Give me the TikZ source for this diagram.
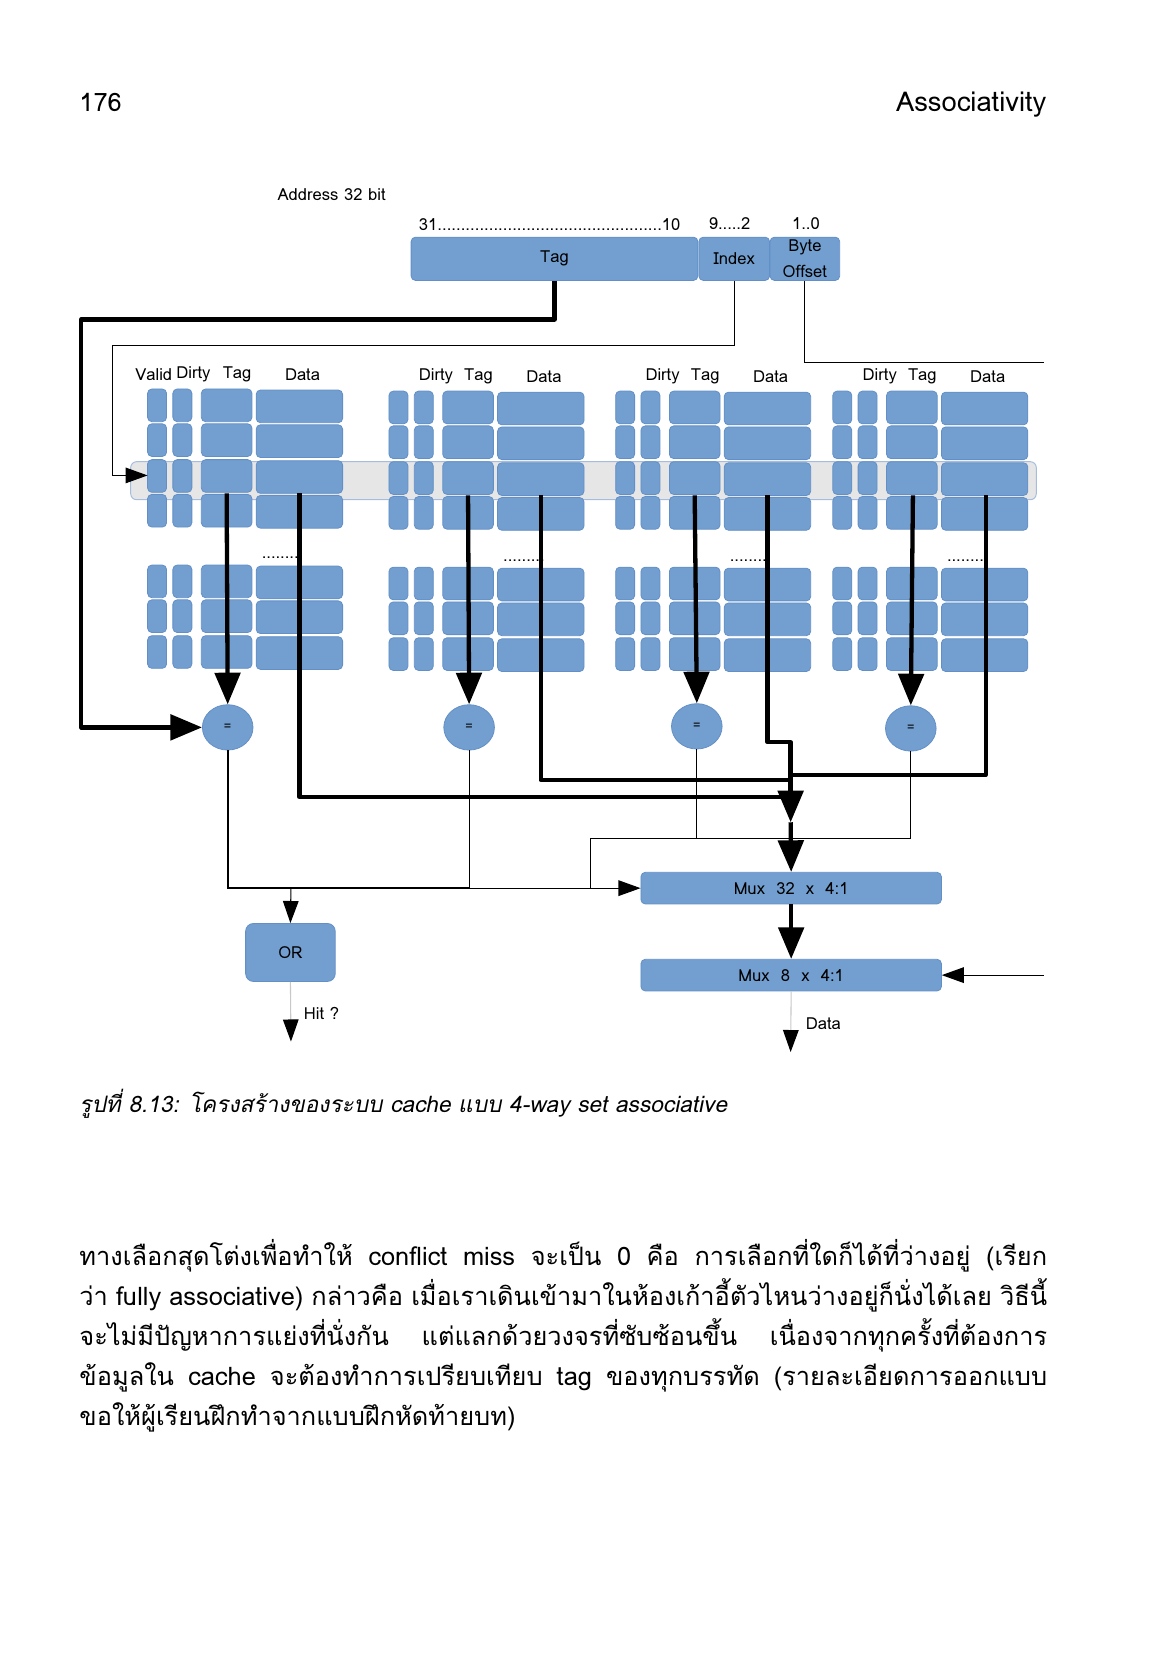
\documentclass[tikz,border=0pt]{standalone}
\usepackage{fontspec}
\setmainfont{Loma}[Script=Thai]
\newfontfamily\thaiit{Loma}[Script=Thai,FakeSlant=0.2]
\usetikzlibrary{arrows.meta,shapes.geometric}
\definecolor{blu}{RGB}{114,159,207}
\definecolor{blud}{RGB}{98,143,199}
\definecolor{bandf}{RGB}{230,230,230}
\definecolor{bandd}{RGB}{165,188,222}
\definecolor{lgray}{RGB}{200,200,200}
\newcommand\dfont{\fontsize{8.5}{13}\selectfont}
\newcommand\jline[1]{\hbox to 495.7pt{\spaceskip=.3em plus 1fil\relax #1}}
\newcommand\drawway[2]{%
  \foreach \ry in {369,402,436,469,536,569,603} {
    \path[blk] (#1,\ry+#2) rectangle ++(18,31);
    \path[blk] (#1+24,\ry+#2) rectangle ++(18,31);
    \path[blk] (#1+51,\ry+#2) rectangle ++(48,31);
    \path[blk] (#1+103,\ry+#2+1) rectangle ++(82,31);
  }}
\begin{document}
\begin{tikzpicture}[x=0.54pt,y=-0.54pt,
  blk/.style={fill=blu,draw=blud,line width=0.4pt,rounded corners=2.2pt},
  box/.style={blk,inner sep=0pt,font=\dfont},
  sz/.style 2 args={minimum width=#1*0.54pt,minimum height=#2*0.54pt},
  lbl/.style={inner sep=0pt,font=\dfont},
  eqc/.style={ellipse,fill=blu,draw=blud,line width=0.4pt,inner sep=0pt,
    minimum width=48*0.54pt,minimum height=43*0.54pt,font=\fontsize{6.5}{7}\selectfont},
  thk/.style={line width=2.2pt,line join=round},
  thn/.style={line width=0.55pt},
  thn2/.style={line width=0.9pt},
  bigtip/.tip={Triangle[length=16.2pt,width=13pt]},
  smtip/.tip={Triangle[length=11.3pt,width=8pt]},
  grtip/.tip={Triangle[length=11.3pt,width=8pt,color=black]},
  body/.style={anchor=base west,inner sep=0pt,font=\fontsize{13}{16}\selectfont}
]
\useasboundingbox (0,0) rectangle (1106,1569);

% header
\node[anchor=base west,inner sep=0pt,font=\fontsize{13}{15}\selectfont] (pg) at (75,106) {176};
\node[anchor=base east,inner sep=0pt,font=\fontsize{14}{15}\selectfont] (hd) at (993,106) {Associativity};

% address fields
\node[lbl,anchor=west] (addr) at (263,185) {Address 32 bit};
\node[lbl,anchor=west] (b31) at (397,213) {\makebox[133.9pt]{31\xleaders\hbox{.}\hfill10}};
\node[lbl,anchor=west] (b9) at (672,212) {9.....2};
\node[lbl,anchor=west] (b1) at (751,212) {1..0};
\node[box,sz={272}{41}] (tagf) at (526,245.5) {Tag};
\node[box,sz={67}{41}] (idx) at (696.5,245.5) {Index};
\node[box,sz={66}{41},align=center] (boff) at (763.5,245.5) {Byte\\Offset};

% column headers
\node[lbl,anchor=west] (h1v) at (128,355) {Valid};
\node[lbl,anchor=west] (h1d) at (167,355) {Dirty};
\node[lbl,anchor=west] (h1t) at (211,355) {Tag};
\node[lbl,anchor=west] (h1a) at (270,355) {Data};
\node[lbl,anchor=west] (h2d) at (397,357) {Dirty};
\node[lbl,anchor=west] (h2t) at (440,357) {Tag};
\node[lbl,anchor=west] (h2a) at (499,357) {Data};
\node[lbl,anchor=west] (h3d) at (612,357) {Dirty};
\node[lbl,anchor=west] (h3t) at (655,357) {Tag};
\node[lbl,anchor=west] (h3a) at (714,357) {Data};
\node[lbl,anchor=west] (h4d) at (818,357) {Dirty};
\node[lbl,anchor=west] (h4t) at (861,357) {Tag};
\node[lbl,anchor=west] (h4a) at (920,357) {Data};

% selected set band
\path[fill=bandf,draw=bandd,line width=0.5pt,rounded corners=3pt] (124,438) rectangle (983,474);

% the four ways
\drawway{140}{0}
\drawway{369}{2}
\drawway{584}{2}
\drawway{790}{2}

\node[lbl] (e1) at (268,529) {.........};
\node[lbl] (e2) at (497,532) {.........};
\node[lbl] (e3) at (712,532) {.........};
\node[lbl] (e4) at (918,532) {.........};

% comparators
\node[eqc] (c1) at (216,690) {=};
\node[eqc] (c2) at (445,690) {=};
\node[eqc] (c3) at (661,689) {=};
\node[eqc] (c4) at (864,691) {=};

% muxes and OR
\node[box,sz={285}{30}] (m32) at (750.5,842.5) {Mux\ \ 32\ \ x\ \ 4:1};
\node[box,sz={285}{30}] (m8) at (750.5,925) {Mux\ \ 8\ \ x\ \ 4:1};
\node[box,sz={85}{55},rounded corners=4pt] (or) at (275.5,903.5) {OR};

% coordinates
\coordinate (rowin) at (140,451);
\coordinate (boend) at (990,344);
\coordinate (selin) at (990,925);
\coordinate (t1) at (215,468);
\coordinate (t2) at (444,470);
\coordinate (t3) at (659,470);
\coordinate (t4) at (866,470);
\coordinate (d1) at (284,468);
\coordinate (d2) at (513,470);
\coordinate (d3) at (728,470);
\coordinate (d4) at (935,470);
\coordinate (vj) at (750,704);
\coordinate (va) at (750,780);
\coordinate (j1) at (445,842.5);
\coordinate (j0) at (560,842.5);
\coordinate (j2) at (560,795);
\coordinate (jor) at (276,842.5);
\coordinate (hit) at (276,988);
\coordinate (dout) at (750,998);

% address connectors
\draw[thk,-{bigtip}] (tagf.south) |- (77,303) |- (c1.west);
\draw[thn,-{smtip}] (idx.south) |- (107,328) |- (rowin);
\draw[thn] (boff.south) |- (boend);
\draw[thn,-{smtip}] (selin) -- (m8.east);

% tag compare lines
\draw[thk,-{bigtip}] (t1) -- (c1.north);
\draw[thk,-{bigtip}] (t2) -- (c2.north);
\draw[thk,-{bigtip}] (t3) -- (c3.north);
\draw[thk,-{bigtip}] (t4) -- (c4.north);

% data lines
\draw[thk] (d1) |- (750,756);
\draw[thk] (d2) |- (750,740);
\draw[thk] (d4) |- (750,735);
\draw[thk,-{bigtip}] (d3) |- (vj) -- (va);
\draw[thk,-{bigtip}] (va) -- (m32.north);
\draw[thk,-{bigtip}] (m32.south) -- (m8.north);

% hit logic
\draw[thn2] (c1.south) |- (j1);
\draw[thn] (c2.south) -- (j1);
\draw[thn,-{smtip}] (j1) -- (m32.west);
\draw[thn] (c3.south) |- (j2);
\draw[thn] (c4.south) |- (j2);
\draw[thn] (j2) -- (j0);
\draw[thn,-{smtip}] (jor) -- (or.north);
\draw[thn,draw=lgray,-{grtip}] (or.south) -- (hit);
\draw[thn,draw=lgray,-{grtip}] (m8.south) -- (dout);
\node[lbl,anchor=west] (hitl) at (288,961) {Hit ?};
\node[lbl,anchor=west] (datl) at (764,971) {Data};

% caption
\node[anchor=base west,inner sep=0pt,font=\thaiit\fontsize{11.6}{15}\selectfont] (cap) at (75,1055)
  {รูปที่ 8.13: โครงสร้างของระบบ cache แบบ 4-way set associative};

% body
\node[body] (l1) at (75,1200) {\jline{ทางเลือกสุดโต่งเพื่อทำให้ conflict miss จะเป็น 0 คือ การเลือกที่ใดก็ได้ที่ว่างอยู่ (เรียก}};
\node[body] (l2) at (75,1238) {\jline{ว่า fully associative) กล่าวคือ เมื่อเราเดินเข้ามาในห้องเก้าอี้ตัวไหนว่างอยู่ก็นั่งได้เลย วิธีนี้}};
\node[body] (l3) at (75,1276) {\jline{จะไม่มีปัญหาการแย่งที่นั่งกัน แต่แลกด้วยวงจรที่ซับซ้อนขึ้น เนื่องจากทุกครั้งที่ต้องการ}};
\node[body] (l4) at (75,1314) {\jline{ข้อมูลใน cache จะต้องทำการเปรียบเทียบ tag ของทุกบรรทัด (รายละเอียดการออกแบบ}};
\node[body] (l5) at (75,1352) {ขอให้ผู้เรียนฝึกทำจากแบบฝึกหัดท้ายบท)};
\end{tikzpicture}
\end{document}
